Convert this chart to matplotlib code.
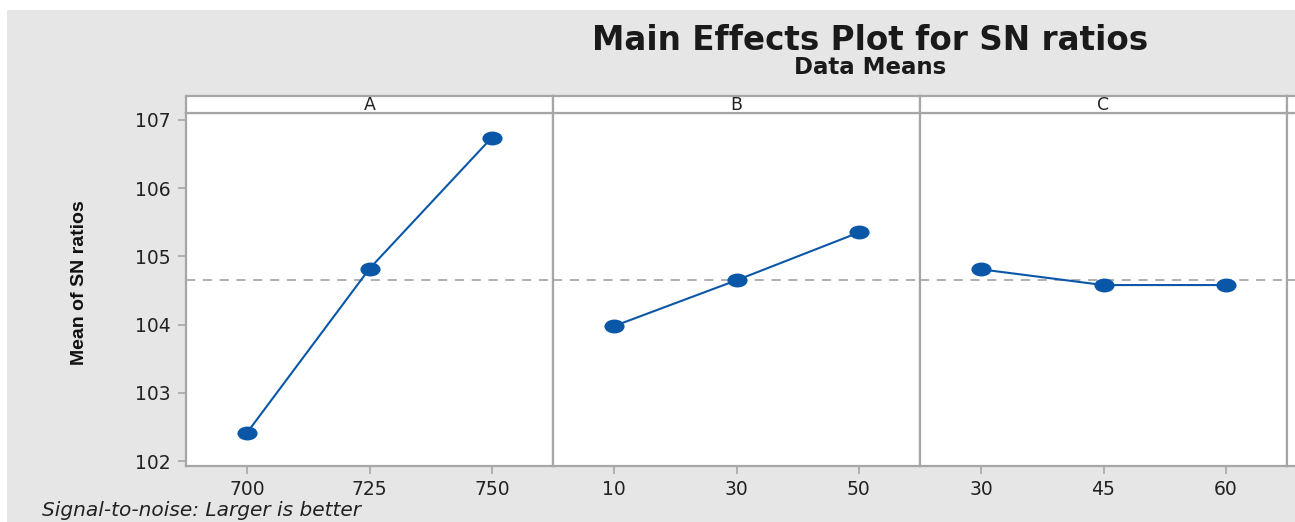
import matplotlib
matplotlib.use("Agg")
import matplotlib.pyplot as plt
from matplotlib.patches import Rectangle
from matplotlib.markers import MarkerStyle
from matplotlib.transforms import Affine2D

# data
factors = ["A", "B", "C"]
levels_A = ["700", "725", "750"]
levels_B = ["10", "30", "50"]
levels_C = ["30", "45", "60"]
sn_A = [102.42, 104.82, 106.74]
sn_B = [103.98, 104.65, 105.35]
sn_C = [104.81, 104.58, 104.58]
y_ticks = [102, 103, 104, 105, 106, 107]

levels = [levels_A, levels_B, levels_C]
means = [sn_A, sn_B, sn_C]
grand_mean = sum(sum(m) for m in means) / sum(len(m) for m in means)

W, H = 1295, 522
BLUE = "#0a57a8"
EDGE = "#a6a6a6"
BG = "#e6e6e6"
DOT = MarkerStyle("o", transform=Affine2D().scale(1.5, 1.0))

fig = plt.figure(figsize=(W / 100, H / 100), dpi=100)
fig.patch.set_facecolor("white")
fig.patches.append(Rectangle((7 / W, 0), 1, (H - 10) / H, transform=fig.transFigure,
                             facecolor=BG, edgecolor="none", zorder=-10))


def px_axes(x0, y_top, w, h):
    return fig.add_axes([x0 / W, (H - y_top - h) / H, w / W, h / H])


left, pw = 186, 367
top, ph = 113, 353
strip_top, strip_h = 96, 17

panels = [(f, lv, m) for f, lv, m in zip(factors, levels, means)] + [("", [], [])]

for i, (fac, lv, m) in enumerate(panels):
    x0 = left + i * pw
    ax = px_axes(x0, top, pw, ph)
    ax.set_facecolor("white")
    if m:
        xs = list(range(len(m)))
        ax.plot(xs, m, color=BLUE, lw=1.5, marker=DOT, ms=9, mfc=BLUE, mec=BLUE, zorder=3)
        ax.set_xticks(xs)
        ax.set_xticklabels(lv, fontsize=13.5, color="#222222")
    else:
        ax.set_xticks([])
    ax.axhline(grand_mean, color="#9a9a9a", lw=1.1, ls=(0, (6, 5)), zorder=2)
    ax.set_xlim(-0.5, 2.5)
    ax.set_ylim(101.93, 107.1)
    ax.set_yticks(y_ticks)
    if i == 0:
        ax.set_yticklabels([str(t) for t in y_ticks], fontsize=13.5, color="#222222")
        ax.tick_params(axis="y", length=6, width=1.2, color=EDGE, pad=5)
    else:
        ax.tick_params(axis="y", left=False, labelleft=False)
    ax.tick_params(axis="x", length=6, width=1.2, color=EDGE, pad=4)
    for s in ax.spines.values():
        s.set_color(EDGE)
        s.set_linewidth(1.6)

    sax = px_axes(x0, strip_top, pw, strip_h)
    sax.set_facecolor("white")
    sax.set_xticks([]); sax.set_yticks([])
    for s in sax.spines.values():
        s.set_color(EDGE)
        s.set_linewidth(1.6)
    sax.text(0.5, 0.45, fac, transform=sax.transAxes, ha="center", va="center",
             fontsize=12.5, color="#222222")

fig.text(870 / W, 1 - 40 / H, "Main Effects Plot for SN ratios", ha="center", va="center",
         fontsize=23.5, fontweight="bold", color="#1a1a1a")
fig.text(870 / W, 1 - 68 / H, "Data Means", ha="center", va="center",
         fontsize=16.5, fontweight="bold", color="#1a1a1a")
fig.text(79 / W, 1 - 283 / H, "Mean of SN ratios", rotation=90, ha="center", va="center",
         fontsize=14, fontweight="bold", family="Liberation Sans",
         color="#111111")
fig.text(42 / W, 2 / H, "Signal-to-noise: Larger is better", ha="left", va="bottom",
         fontsize=14.5, style="italic", color="#222222")

fig.savefig("out.png", dpi=100)
